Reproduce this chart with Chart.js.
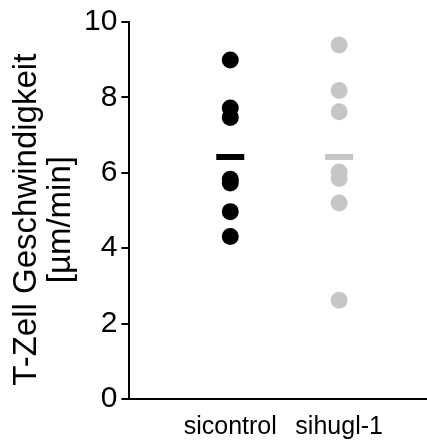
<!DOCTYPE html>
<html>
<head>
<meta charset="utf-8">
<script src="https://cdn.jsdelivr.net/npm/chart.js@4"></script>
<style>
  html, body { margin: 0; padding: 0; background: #fff; }
  #wrap { width: 427px; height: 441px; }
</style>
</head>
<body>
<div id="wrap"><canvas id="speedChart" width="427" height="441"></canvas></div>
<script>
var categories = ['sicontrol', 'sihugl-1'];
var sicontrolValues = [8.99, 7.72, 7.47, 5.83, 5.73, 4.97, 4.31];
var sihuglValues = [9.39, 8.18, 7.62, 6.02, 5.85, 5.2, 2.62];
var meanValues = [6.42, 6.42];
var yTicks = [0, 2, 4, 6, 8, 10];

function toPoints(xPos, values) {
    return values.map(function (v) { return { x: xPos, y: v }; });
}

document.addEventListener('DOMContentLoaded', function () {
    var ctx = document.getElementById('speedChart').getContext('2d');
    var speedChart = new Chart(ctx, {
        type: 'scatter',
        data: {
            datasets: [{
                label: categories[0],
                data: toPoints(1, sicontrolValues),
                backgroundColor: '#000000',
                borderWidth: 0,
                pointRadius: 8.5
            }, {
                label: categories[1],
                data: toPoints(2, sihuglValues),
                backgroundColor: '#c6c6c6',
                borderWidth: 0,
                pointRadius: 8.5
            }, {
                label: 'Mittelwert',
                data: [{ x: 1, y: meanValues[0] }, { x: 2, y: meanValues[1] }],
                pointStyle: 'line',
                pointRadius: 14,
                pointBorderWidth: 6,
                borderColor: ['#000000', '#c6c6c6'],
                backgroundColor: ['#000000', '#c6c6c6']
            }]
        },
        options: {
            responsive: false,
            animation: false,
            layout: { autoPadding: false, padding: { top: 7, right: 0, left: 10, bottom: -15 } },
            plugins: {
                legend: { display: false },
                tooltip: { enabled: false }
            },
            scales: {
                x: {
                    type: 'linear',
                    min: 0.073,
                    max: 2.807,
                    afterBuildTicks: function (axis) {
                        axis.ticks = [{ value: 1 }, { value: 2 }];
                    },
                    ticks: {
                        color: '#000',
                        font: { family: 'Liberation Sans', size: 25, lineHeight: 1.0 },
                        padding: 16,
                        maxRotation: 0,
                        callback: function (value) { return categories[value - 1]; }
                    },
                    grid: { display: false, drawTicks: false },
                    border: { display: true, color: '#000', width: 2 }
                },
                y: {
                    min: 0,
                    max: 10,
                    afterBuildTicks: function (axis) {
                        axis.ticks = yTicks.map(function (v) { return { value: v }; });
                    },
                    ticks: {
                        color: '#000',
                        font: { family: 'Liberation Sans', size: 30 },
                        padding: 4
                    },
                    grid: {
                        drawOnChartArea: false,
                        drawTicks: true,
                        tickLength: 8,
                        color: '#000',
                        lineWidth: 2
                    },
                    border: { display: true, color: '#000', width: 2 },
                    title: {
                        display: true,
                        text: ['T-Zell Geschwindigkeit  ', '[µm/min]  '],
                        color: '#000',
                        font: { family: 'Liberation Sans', size: 33, lineHeight: 1.03 },
                        padding: { top: 0, bottom: 2 }
                    }
                }
            }
        }
    });
});
</script>
</body>
</html>
